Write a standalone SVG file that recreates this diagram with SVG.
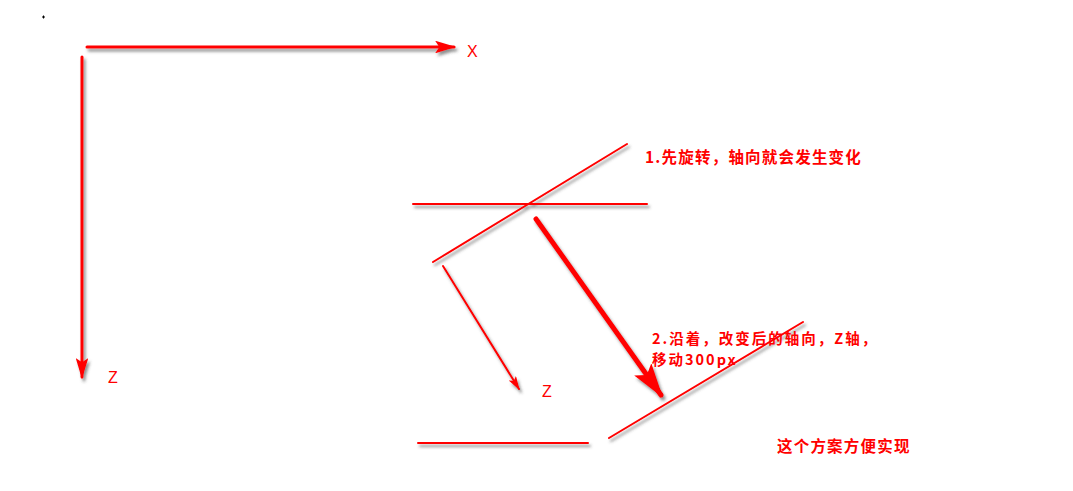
<svg xmlns="http://www.w3.org/2000/svg" width="1073" height="491" viewBox="0 0 1073 491">
<style>
.ln{stroke:#ff0000;fill:none;stroke-linecap:round}
.t{fill:#ff0000;font-family:"Liberation Sans","Noto Sans CJK SC",sans-serif;font-size:16px}
.c{fill:#ff0000;font-family:"Noto Sans CJK SC","Liberation Sans",sans-serif;font-size:15.5px;font-weight:bold;letter-spacing:1.2px}
.c2{fill:#ff0000;font-family:"Noto Sans CJK SC","Liberation Sans",sans-serif;font-size:14.5px;font-weight:bold;letter-spacing:2px}
</style>
<defs>
<filter id="sh" x="-20%" y="-20%" width="140%" height="140%">
<feDropShadow dx="2" dy="3" stdDeviation="1.8" flood-color="#444" flood-opacity="0.6"/>
</filter>
<marker id="ah" viewBox="0 0 20 12" markerWidth="7.5" markerHeight="4.2" refX="18" refY="6" orient="auto" markerUnits="strokeWidth">
<path d="M0,0 L20,6 L0,12 L4,6 z" fill="#ff0000"/>
</marker>
</defs>
<rect width="1073" height="491" fill="#ffffff"/>
<path d="M42,17h3M43.5,15.5v3" stroke="#000" stroke-width="1"/>
<g id="connectors" filter="url(#sh)">
<line class="ln" x1="87" y1="47" x2="454" y2="47" stroke-width="3" marker-end="url(#ah)"/>
<line class="ln" x1="82" y1="57" x2="82" y2="377" stroke-width="3" marker-end="url(#ah)"/>
<line class="ln" x1="536" y1="219" x2="661" y2="395" stroke-width="5" marker-end="url(#ah)"/>
<line class="ln" x1="443" y1="266" x2="519" y2="389" stroke-width="2" marker-end="url(#ah)"/>
</g>
<g id="shapes" filter="url(#sh)">
<line class="ln" x1="413" y1="204" x2="647" y2="204" stroke-width="2"/>
<line class="ln" x1="433" y1="262" x2="627" y2="144" stroke-width="2"/>
<line class="ln" x1="609" y1="438" x2="803" y2="322" stroke-width="2"/>
<line class="ln" x1="418" y1="443" x2="588" y2="443" stroke-width="2"/>
</g>
<g id="labels">
<text class="t" x="467" y="57">X</text>
<text class="t" x="108" y="383">Z</text>
<text class="t" x="542" y="397">Z</text>
<text class="c" x="645" y="163">1.先旋转，轴向就会发生变化</text>
<text class="c2" x="652" y="344">2.沿着，改变后的轴向，Z轴，</text>
<text class="c2" x="652" y="365">移动300px</text>
<text class="c" x="777" y="452">这个方案方便实现</text>
</g>
</svg>
